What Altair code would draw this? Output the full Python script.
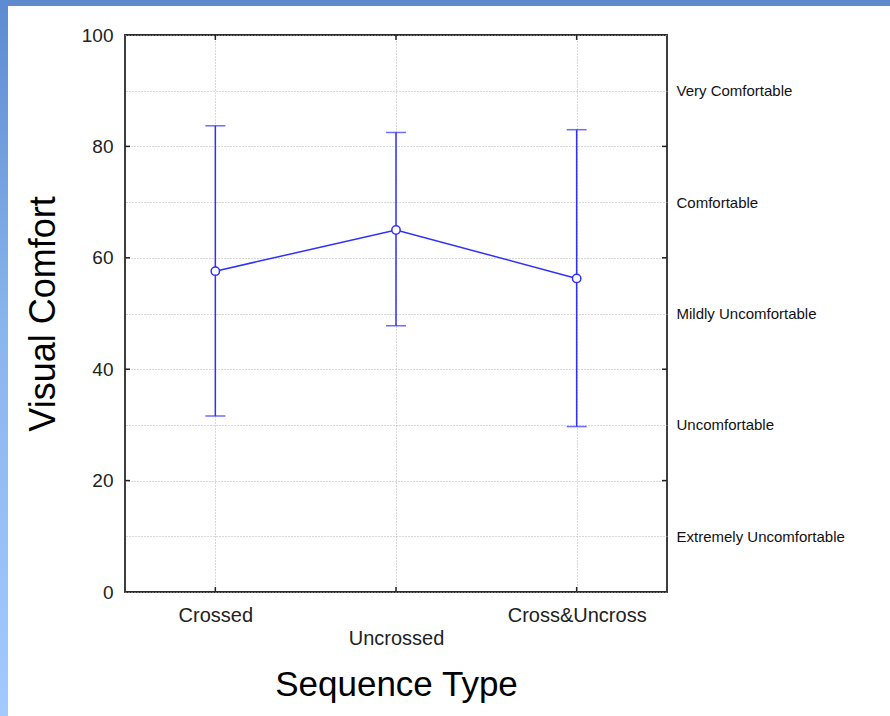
import altair as alt
import pandas as pd

# Mean visual comfort per sequence type, with interval bounds
categories = ["Crossed", "Uncrossed", "Cross&Uncross"]
means = [57.6, 65.0, 56.3]
upper = [83.7, 82.5, 83.0]
lower = [31.6, 47.8, 29.7]

# Left axis ticks and right-hand verbal scale
left_ticks = [0, 20, 40, 60, 80, 100]
inner_ticks = [20, 40, 60, 80]
scale_values = [10, 30, 50, 70, 90]
scale_labels = ["Extremely Uncomfortable", "Uncomfortable", "Mildly Uncomfortable",
                "Comfortable", "Very Comfortable"]

df = pd.DataFrame({"type": categories, "mean": means, "hi": upper, "lo": lower})
ticks_df = pd.DataFrame({"v": inner_ticks})
one_row = pd.DataFrame({"k": [0]})

BLUE = "#2f2fff"
FONT = "Liberation Sans"
GRID = dict(grid=True, gridDash=[1, 2], gridColor="#b0b0b0", gridWidth=1)

yscale = alt.Scale(domain=[0, 100], nice=False, zero=True)
xscale = alt.Scale(type="point", padding=0.5)

label_expr = " : ".join(
    f"datum.value == {v} ? '{t}'" for v, t in zip(scale_values, scale_labels)
) + " : ''"

x_axis = alt.Axis(
    title="Sequence Type", titleFontSize=35, titleFontWeight="normal", titleFont=FONT,
    titleColor="#000", titlePadding=19, labelFontSize=20, labelFont=FONT,
    labelColor="#222", labelPadding=13, labelAngle=0, labelLineHeight=23.4,
    labelExpr="datum.label == 'Uncrossed' ? ['', datum.label] : datum.label",
    ticks=False, domain=False, **GRID,
)

left_axis = alt.Axis(
    values=left_ticks, title="Visual Comfort", titleFontSize=36, titleFontWeight="normal",
    titleFont=FONT, titleColor="#000", titlePadding=19, labelFontSize=19, labelFont=FONT,
    labelColor="#222", labelPadding=12, ticks=False, domain=False, **GRID,
)

right_axis = alt.Axis(
    orient="right", values=scale_values, labelExpr=label_expr, title=None,
    labelFontSize=15, labelFont=FONT, labelColor="#111", labelPadding=9,
    labelAlign="left", ticks=False, domain=False, **GRID,
)


def xenc():
    return alt.X("type:N", sort=categories, scale=xscale, axis=x_axis)


base = alt.Chart(df)

bars = base.mark_rule(color=BLUE, strokeWidth=1.5).encode(
    x=xenc(),
    y=alt.Y("lo:Q", scale=yscale, axis=left_axis),
    y2="hi:Q",
)

cap_hi = base.mark_tick(color=BLUE, size=20, thickness=1.5).encode(
    x=xenc(), y=alt.Y("hi:Q", axis=None),
)
cap_lo = base.mark_tick(color=BLUE, size=20, thickness=1.5).encode(
    x=xenc(), y=alt.Y("lo:Q", axis=None),
)

line = base.mark_line(color=BLUE, strokeWidth=1.5).encode(
    x=xenc(), y=alt.Y("mean:Q", axis=None),
)

points = base.mark_point(
    shape="circle", filled=True, fill="white", stroke=BLUE, strokeWidth=1.5,
    size=70, opacity=1,
).encode(
    x=xenc(), y=alt.Y("mean:Q", axis=None),
)

# inward tick marks on the frame
tick_left = alt.Chart(ticks_df).mark_rule(color="#222", strokeWidth=1.5).encode(
    y=alt.Y("v:Q", axis=right_axis), x=alt.value(0), x2=alt.value(5),
)
tick_right = alt.Chart(ticks_df).mark_rule(color="#222", strokeWidth=1.5).encode(
    y=alt.Y("v:Q", axis=None), x=alt.value(537), x2=alt.value(542),
)
tick_bottom = base.mark_rule(color="#222", strokeWidth=1.5).encode(
    x=xenc(), y=alt.value(552), y2=alt.value(557),
)
tick_top = base.mark_rule(color="#222", strokeWidth=1.5).encode(
    x=xenc(), y=alt.value(0), y2=alt.value(5),
)

# slide frame strips along the top and left edges
strip_top = alt.Chart(one_row).mark_rect(color="#5f8acd").encode(
    x=alt.value(-125), x2=alt.value(765), y=alt.value(-35), y2=alt.value(-29),
)
strip_left = alt.Chart(one_row).mark_rect(
    color=alt.Gradient(
        gradient="linear",
        stops=[alt.GradientStop(color="#5c8bd1", offset=0),
               alt.GradientStop(color="#8ab4ec", offset=0.45),
               alt.GradientStop(color="#a2caff", offset=1)],
        x1=0, x2=0, y1=0, y2=1,
    )
).encode(
    x=alt.value(-125), x2=alt.value(-117), y=alt.value(-35), y2=alt.value(681),
)

chart = alt.layer(
    bars, cap_hi, cap_lo, line, points,
    tick_left, tick_right, tick_bottom, tick_top,
    strip_top, strip_left,
).resolve_axis(y="independent").properties(
    width=542, height=557,
    padding={"left": 125, "top": 35, "right": 223, "bottom": 124},
    autosize="none",
    background="white",
).configure_view(stroke="#2a2a2a", strokeWidth=1.8)

chart.save("out.html", embed_options={"renderer": "svg", "actions": False})
